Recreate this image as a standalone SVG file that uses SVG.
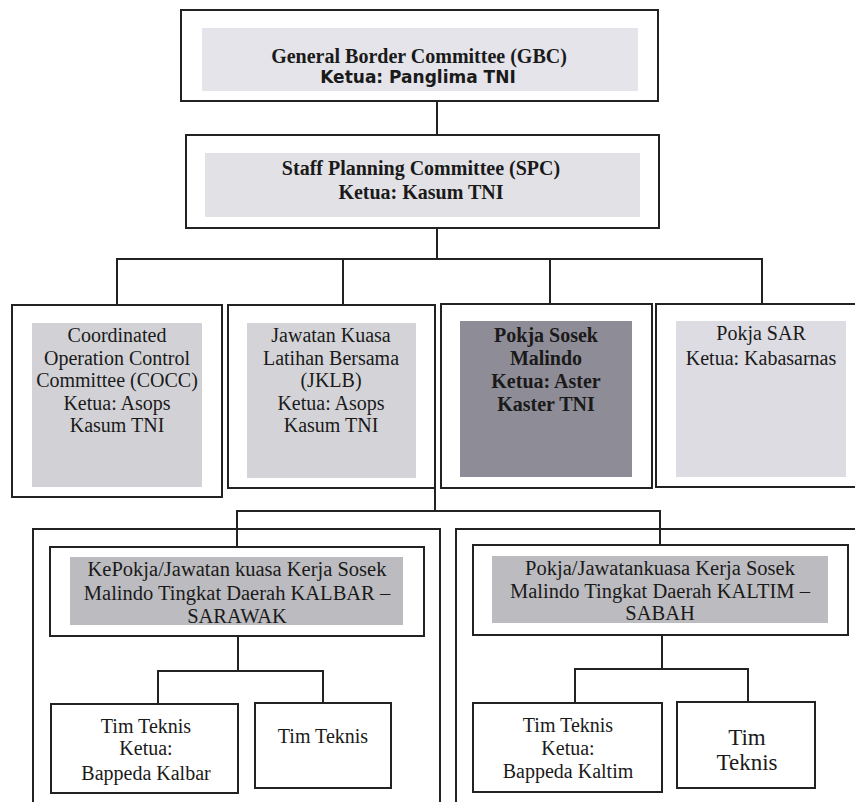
<svg xmlns="http://www.w3.org/2000/svg" width="855" height="802" viewBox="0 0 855 802">
<style>
.box{fill:#fff;stroke:#222;stroke-width:2}
.frame{fill:none;stroke:#222;stroke-width:2}
.c{fill:none;stroke:#222;stroke-width:2}
.t{font-family:"Liberation Serif","Times New Roman",serif;font-size:20px;fill:#1a1a1a;text-anchor:middle}
.b{font-weight:bold}
.s{font-family:"DejaVu Sans",Verdana,sans-serif;font-weight:bold;font-size:17px;fill:#1a1a1a;text-anchor:middle}
</style>
<rect width="855" height="802" fill="#fff"/>
<g id="frames">
<path class="frame" d="M33,802 V529 H440 V802"/>
<path class="frame" d="M456,802 V529 H857"/>
</g>
<g id="connectors">
<path class="c" d="M437,101 V135"/>
<path class="c" d="M437,217 V259"/>
<path class="c" d="M117,304 V259 H762 V304"/>
<path class="c" d="M343,259 V304"/>
<path class="c" d="M550,259 V304"/>
<path class="c" d="M435,488 V511"/>
<path class="c" d="M237,547 V511 H660 V545"/>
<path class="c" d="M238,636 V671"/>
<path class="c" d="M158,704 V671 H323 V703"/>
<path class="c" d="M662,635 V669"/>
<path class="c" d="M575,703 V669 H748 V702"/>
</g>
<g id="gbc">
<rect class="box" x="181" y="10" width="477" height="91"/>
<rect x="202" y="28" width="436" height="63" fill="#e4e4ea"/>
<text class="t b" x="419" y="63">General Border Committee (GBC)</text>
<text class="s" x="418" y="83">Ketua: Panglima TNI</text>
</g>
<g id="spc">
<rect class="box" x="186" y="135" width="473" height="93"/>
<rect x="205" y="153" width="435" height="64" fill="#e2e2e6"/>
<text class="t b" x="421" y="175">Staff Planning Committee (SPC)</text>
<text class="t b" x="421" y="199">Ketua: Kasum TNI</text>
</g>
<g id="cocc">
<rect class="box" x="12" y="305" width="210" height="192"/>
<rect x="32" y="323" width="170" height="164" fill="#d2d2d6"/>
<text class="t" x="117" y="342">Coordinated</text>
<text class="t" x="117" y="365">Operation Control</text>
<text class="t" x="117" y="387">Committee (COCC)</text>
<text class="t" x="117" y="410">Ketua: Asops</text>
<text class="t" x="117" y="432">Kasum TNI</text>
</g>
<g id="jklb">
<rect class="box" x="228" y="305" width="207" height="183"/>
<rect x="247" y="323" width="169" height="155" fill="#d4d4d8"/>
<text class="t" x="331" y="342">Jawatan Kuasa</text>
<text class="t" x="331" y="365">Latihan Bersama</text>
<text class="t" x="331" y="387">(JKLB)</text>
<text class="t" x="331" y="410">Ketua: Asops</text>
<text class="t" x="331" y="432">Kasum TNI</text>
</g>
<g id="sosek">
<rect class="box" x="441" y="304" width="211" height="184"/>
<rect x="460" y="321" width="172" height="156" fill="#8e8c96"/>
<text class="t b" x="546" y="342">Pokja Sosek</text>
<text class="t b" x="546" y="365">Malindo</text>
<text class="t b" x="546" y="388">Ketua: Aster</text>
<text class="t b" x="546" y="411">Kaster TNI</text>
</g>
<g id="sar">
<rect class="box" x="656" y="304" width="202" height="183"/>
<rect x="676" y="321" width="170" height="156" fill="#dcdce2"/>
<text class="t" x="761" y="340">Pokja SAR</text>
<text class="t" x="761" y="365">Ketua: Kabasarnas</text>
</g>
<g id="kalbar">
<rect class="box" x="50" y="547" width="374" height="89"/>
<rect x="70" y="557" width="333" height="68" fill="#bcbcc0"/>
<text class="t" x="237" y="576" style="font-size:20.5px">KePokja/Jawatan kuasa Kerja Sosek</text>
<text class="t" x="237" y="600" style="font-size:20.5px">Malindo Tingkat Daerah KALBAR –</text>
<text class="t" x="237" y="623" style="font-size:20.5px">SARAWAK</text>
</g>
<g id="kaltim">
<rect class="box" x="473" y="545" width="375" height="90"/>
<rect x="492" y="556" width="336" height="67" fill="#bcbcc0"/>
<text class="t" x="660" y="575" style="font-size:20.5px">Pokja/Jawatankuasa Kerja Sosek</text>
<text class="t" x="660" y="598" style="font-size:20.5px">Malindo Tingkat Daerah KALTIM –</text>
<text class="t" x="660" y="620" style="font-size:20.5px">SABAH</text>
</g>
<g id="tim1">
<rect class="box" x="51" y="704" width="187" height="89"/>
<text class="t" x="146" y="733">Tim Teknis</text>
<text class="t" x="146" y="755">Ketua:</text>
<text class="t" x="146" y="780">Bappeda Kalbar</text>
</g>
<g id="tim2">
<rect class="box" x="255" y="703" width="136" height="85"/>
<text class="t" x="323" y="743">Tim Teknis</text>
</g>
<g id="tim3">
<rect class="box" x="473" y="703" width="189" height="89"/>
<text class="t" x="568" y="732">Tim Teknis</text>
<text class="t" x="568" y="755">Ketua:</text>
<text class="t" x="568" y="778">Bappeda Kaltim</text>
</g>
<g id="tim4">
<rect class="box" x="677" y="702" width="138" height="86"/>
<text class="t" x="747" y="745" style="font-size:23px">Tim</text>
<text class="t" x="747" y="770" style="font-size:23px">Teknis</text>
</g>
</svg>
